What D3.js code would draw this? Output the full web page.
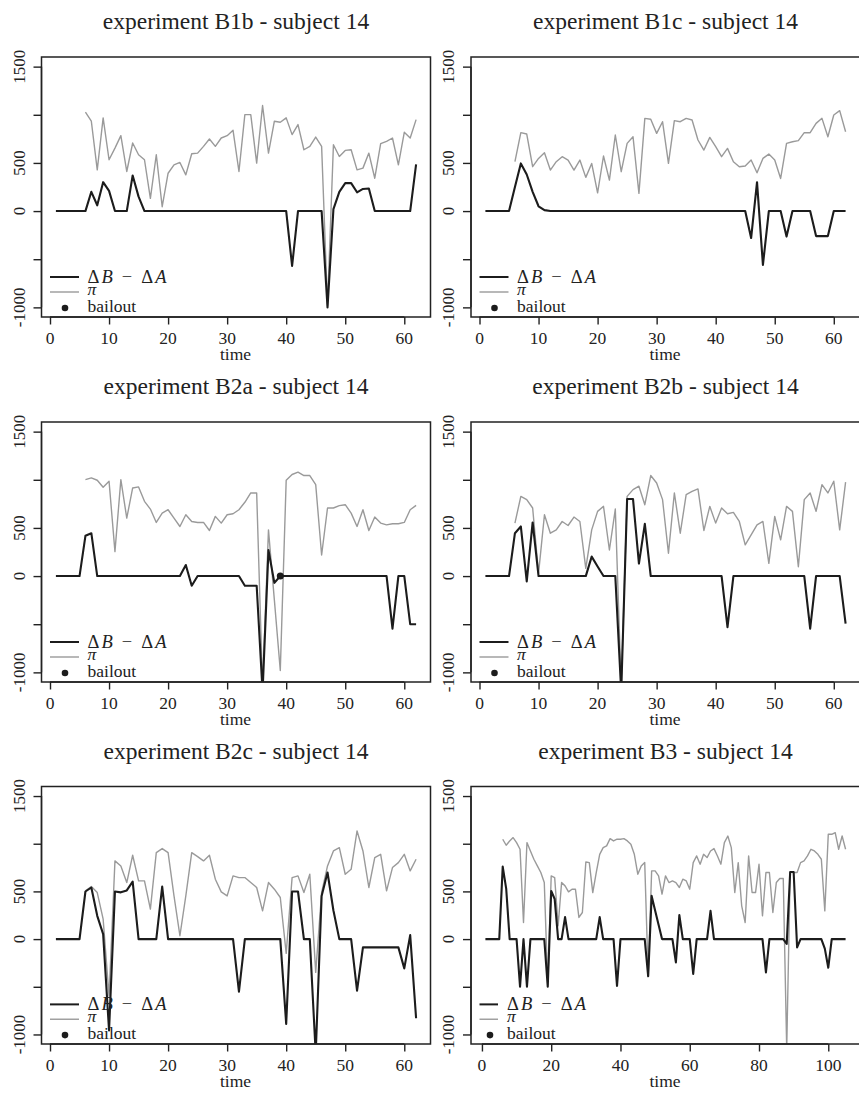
<!DOCTYPE html>
<html>
<head>
<meta charset="utf-8">
<script src="https://cdnjs.cloudflare.com/ajax/libs/d3/7.8.5/d3.min.js"></script>
<style>
  body { margin: 0; background: #fff; }
  text { font-family: 'Liberation Serif'; fill: #222; }
</style>
</head>
<body>
<svg id="chart" width="859" height="1093"></svg>
<script>

// ---- data (subject 14) ----
var titles = ["experiment B1b - subject 14", "experiment B1c - subject 14",
              "experiment B2a - subject 14", "experiment B2b - subject 14",
              "experiment B2c - subject 14", "experiment B3 - subject 14"];

// Delta B - Delta A, time 1..n
var diffB1b = [0,0,0,0,0,0,200,60,300,210,0,0,0,370,150,0,
  0,0,0,0,0,0,0,0,0,0,0,0,0,0,0,0,0,0,0,0,0,0,0,0,
  -570,0,0,0,0,0,-1000,20,200,290,290,195,230,235,0,0,0,0,0,0,0,485];
var diffB1c = [0,0,0,0,0,250,495,380,200,50,10,
  0,0,0,0,0,0,0,0,0,0,0,0,0,0,0,0,0,0,0,0,0,0,0,0,0,0,0,0,0,0,0,0,0,0,
  -280,300,-560,0,0,0,-265,0,0,0,0,-260,-260,-260,0,0,0];
var diffB2a = [0,0,0,0,0,418,445,0,
  0,0,0,0,0,0,0,0,0,0,0,0,0,0,
  115,-100,0,0,0,0,0,0,0,0,
  -100,-100,-100,-1200,270,-70,0,
  0,0,0,0,0,0,0,0,0,0,0,0,0,0,0,0,0,0,
  -546,0,0,-500,-500];
var diffB2b = [0,0,0,0,0,445,515,-55,557,0,
  0,0,0,0,0,0,0,0,
  202,100,0,0,0,-1200,800,800,130,543,0,
  0,0,0,0,0,0,0,0,0,0,0,0,
  -530,0,
  0,0,0,0,0,0,0,0,0,0,0,0,
  -546,0,0,0,0,0,-494];
var diffB2c = [0,0,0,0,0,499,541,244,52,-959,499,490,510,603,0,
  0,0,0,551,0,
  0,0,0,0,0,0,0,0,0,0,0,
  -551,0,0,0,0,0,0,0,
  -889,499,499,0,0,-1200,453,698,300,0,0,0,-541,-87,
  -87,-87,-87,-87,-87,-87,-307,42,-830];
var diffB3 = [0,0,0,0,0,
  760,530,0,0,0,-500,0,-500,0,0,0,0,0,-500,505,420,0,0,230,0,
  0,0,0,0,0,0,0,0,
  230,0,0,0,0,-490,0,
  0,0,0,0,0,0,0,
  -390,453,300,150,0,0,0,0,-244,251,0,0,0,-366,0,0,0,0,296,0,
  0,0,0,0,0,0,0,0,0,0,0,0,0,0,
  -349,0,0,0,0,0,-50,704,704,-87,0,
  0,0,0,0,0,
  0,-100,-300,0,0,0,0,0];

// pi, time 6..n
var piStart = 6;
var piB1b = [1027,933,428,968,533,654,783,411,707,585,
  533,132,585,45,393,480,505,376,595,602,
  672,748,672,759,783,839,411,1002,1002,498,
  1096,602,933,922,968,794,898,637,672,769,
  672,-980,689,567,630,637,428,446,602,341,
  700,724,759,480,818,759,950];
var piB1c = [513,814,800,461,547,606,426,513,565,530,
  426,530,350,495,190,572,322,790,409,703,
  772,184,963,953,807,928,495,939,928,963,
  946,738,634,765,669,565,651,513,461,468,
  530,398,547,592,530,339,703,720,731,814,
  814,911,963,772,998,1043,824];
var piB2a = [1002,1020,995,922,985,254,1002,602,915,926,
  776,696,557,654,689,602,515,637,567,557,
  557,473,620,550,637,647,689,766,863,863,
  -1150,480,-250,-980,995,1055,1079,1044,1044,950,
  219,707,707,731,741,654,515,689,473,613,
  550,532,543,543,557,689,734];
var piB2b = [550,828,794,707,28,637,445,480,567,525,
  613,567,80,480,672,724,271,696,-1150,828,
  898,933,741,1044,967,794,237,863,445,846,
  880,905,473,724,550,707,647,661,567,324,
  428,532,567,132,620,376,724,672,97,794,
  863,672,950,863,985,480,975];
var piB2c = [506,551,488,209,-600,820,767,593,879,610,
  610,314,907,949,907,453,35,453,907,865,
  820,879,628,495,453,663,645,645,593,541,
  296,593,523,436,-150,645,663,488,680,-349,
  488,767,924,959,680,732,1134,924,541,855,
  889,506,750,802,889,715,837];
var piB3 = [1047,984,1029,1064,1012,942,174,1012,924,837,
  767,698,593,-480,663,645,140,593,558,495,
  523,523,227,279,809,802,488,698,889,959,
  977,1053,1029,1047,1047,1053,1029,994,889,680,
  767,802,-384,715,715,663,471,663,593,610,
  593,541,628,610,523,802,872,785,889,855,
  924,949,872,785,1012,1081,959,488,802,349,
  174,872,488,488,785,244,698,698,279,593,
  635,635,-1150,704,698,698,802,820,872,942,
  924,889,837,296,1099,1099,1116,942,1081,942];

// bailout points [time, value]
var bailB2a = [[39, 0]];

var yTicks = [-1000, -500, 0, 500, 1000, 1500];
var yTickLabels = [-1000, 0, 500, 1500];
var xTicks62 = [0, 10, 20, 30, 40, 50, 60];
var xTicks105 = [0, 20, 40, 60, 80, 100];
var legendLabels = ["ΔB − ΔA", "π", "bailout"];

var panels = [
  {title: titles[0], diff: diffB1b, pi: piB1b, bail: [], xt: xTicks62},
  {title: titles[1], diff: diffB1c, pi: piB1c, bail: [], xt: xTicks62},
  {title: titles[2], diff: diffB2a, pi: piB2a, bail: bailB2a, xt: xTicks62},
  {title: titles[3], diff: diffB2b, pi: piB2b, bail: [], xt: xTicks62},
  {title: titles[4], diff: diffB2c, pi: piB2c, bail: [], xt: xTicks62},
  {title: titles[5], diff: diffB3, pi: piB3, bail: [], xt: xTicks105}
];

// ---- layout ----
var FONT = "'Liberation Serif'";   // lists of families don't resolve here, keep it single
var colX = [41.5, 471];
var rowY = [57, 422, 786.5];
var rowH = [260, 260, 257.5];
var boxW = 389;
// legend geometry: [line end, dot x, text x]; the last panel has a narrower key
var legendWide = [37.5, 23.5, 46], legendNarrow = [27, 19, 36];
var svg = d3.select("#chart");

function txt(sel, size) {
  return sel.style("font-family", FONT).style("font-size", size + "px");
}

panels.forEach(function (p, i) {
  var left = colX[i % 2], r = Math.floor(i / 2), top = rowY[r], boxH = rowH[r];
  var n = p.diff.length;
  var ext = (n - 1) * 0.04;

  var x = d3.scaleLinear().domain([1 - ext, n + ext]).range([left, left + boxW]);
  var y = d3.scaleLinear().domain([-1100, 1600]).range([top + boxH, top]);

  var g = svg.append("g");

  g.append("clipPath").attr("id", "clip" + i)
    .append("rect").attr("x", left).attr("y", top).attr("width", boxW).attr("height", boxH);

  // title
  txt(g.append("text"), 23.5)
    .attr("x", left + boxW / 2).attr("y", top - 28)
    .attr("text-anchor", "middle")
    .text(p.title);

  // lines
  var line = d3.line().x(function (d) { return x(d[0]); }).y(function (d) { return y(d[1]); });
  var piPts = p.pi.map(function (v, k) { return [k + piStart, v]; });
  var diffPts = p.diff.map(function (v, k) { return [k + 1, v]; });

  var plot = g.append("g").attr("clip-path", "url(#clip" + i + ")");
  plot.append("path").datum(piPts).attr("d", line)
    .attr("fill", "none").attr("stroke", "#9a9a9a").attr("stroke-width", 1.4)
    .attr("stroke-linejoin", "round");
  plot.append("path").datum(diffPts).attr("d", line)
    .attr("fill", "none").attr("stroke", "#1c1c1c").attr("stroke-width", 2.1)
    .attr("stroke-linejoin", "round");
  plot.selectAll("circle.bail").data(p.bail).enter().append("circle")
    .attr("cx", function (d) { return x(d[0]); }).attr("cy", function (d) { return y(d[1]); })
    .attr("r", 3.5).attr("fill", "#1c1c1c");

  // box
  g.append("rect").attr("x", left).attr("y", top).attr("width", boxW).attr("height", boxH)
    .attr("fill", "none").attr("stroke", "#222").attr("stroke-width", 1.5);

  // y axis
  var ya = g.append("g").attr("transform", "translate(" + left + ",0)")
    .call(d3.axisLeft(y).tickValues(yTicks).tickSize(8).tickFormat(""));
  ya.select(".domain").attr("d", "M0," + y(-1000) + "V" + y(1500));
  ya.selectAll("line, path").attr("stroke", "#222").attr("stroke-width", 1.4);
  txt(g.selectAll("text.ylab").data(yTickLabels).enter().append("text"), 17)
    .attr("transform", function (d) { return "translate(" + (left - 17) + "," + y(d) + ") rotate(-90)"; })
    .attr("text-anchor", "middle")
    .text(function (d) { return d < 0 ? "-" + Math.abs(d) : d; });

  // x axis
  var xa = g.append("g").attr("transform", "translate(0," + (top + boxH) + ")")
    .call(d3.axisBottom(x).tickValues(p.xt).tickSize(7.5).tickFormat(""));
  xa.select(".domain").attr("d", "M" + x(p.xt[0]) + ",0H" + x(p.xt[p.xt.length - 1]));
  xa.selectAll("line, path").attr("stroke", "#222").attr("stroke-width", 1.4);
  txt(g.selectAll("text.xlab").data(p.xt).enter().append("text"), 17.5)
    .attr("x", function (d) { return x(d); }).attr("y", top + boxH + 27)
    .attr("text-anchor", "middle")
    .text(function (d) { return d; });
  txt(g.append("text"), 17.5).attr("x", left + boxW / 2 - 0.5).attr("y", top + boxH + 43)
    .attr("text-anchor", "middle").text("time");

  // legend
  var lk = i === 5 ? legendNarrow : legendWide;
  var lg = g.append("g").attr("transform", "translate(" + left + "," + top + ")");
  var ly = boxH / 260;
  lg.append("line").attr("x1", 8.5).attr("x2", lk[0]).attr("y1", 220 * ly).attr("y2", 220 * ly)
    .attr("stroke", "#1c1c1c").attr("stroke-width", 2);
  lg.append("line").attr("x1", 8.5).attr("x2", lk[0]).attr("y1", 235 * ly).attr("y2", 235 * ly)
    .attr("stroke", "#9a9a9a").attr("stroke-width", 1.4);
  lg.append("circle").attr("cx", lk[1]).attr("cy", 251 * ly).attr("r", 3.3).attr("fill", "#1c1c1c");
  var t1 = txt(lg.append("text"), 18.5).attr("x", lk[2]).attr("y", 226 * ly)
    .attr("textLength", 79).attr("lengthAdjust", "spacing");
  t1.append("tspan").text("Δ");
  t1.append("tspan").style("font-style", "italic").text("B");
  t1.append("tspan").text(" − Δ");
  t1.append("tspan").style("font-style", "italic").text("A");
  txt(lg.append("text"), 17.5).attr("x", lk[2]).attr("y", 238 * ly)
    .style("font-style", "italic").text(legendLabels[1]);
  txt(lg.append("text"), 17.5).attr("x", lk[2]).attr("y", 255 * ly).text(legendLabels[2]);
});
</script>
</body>
</html>
